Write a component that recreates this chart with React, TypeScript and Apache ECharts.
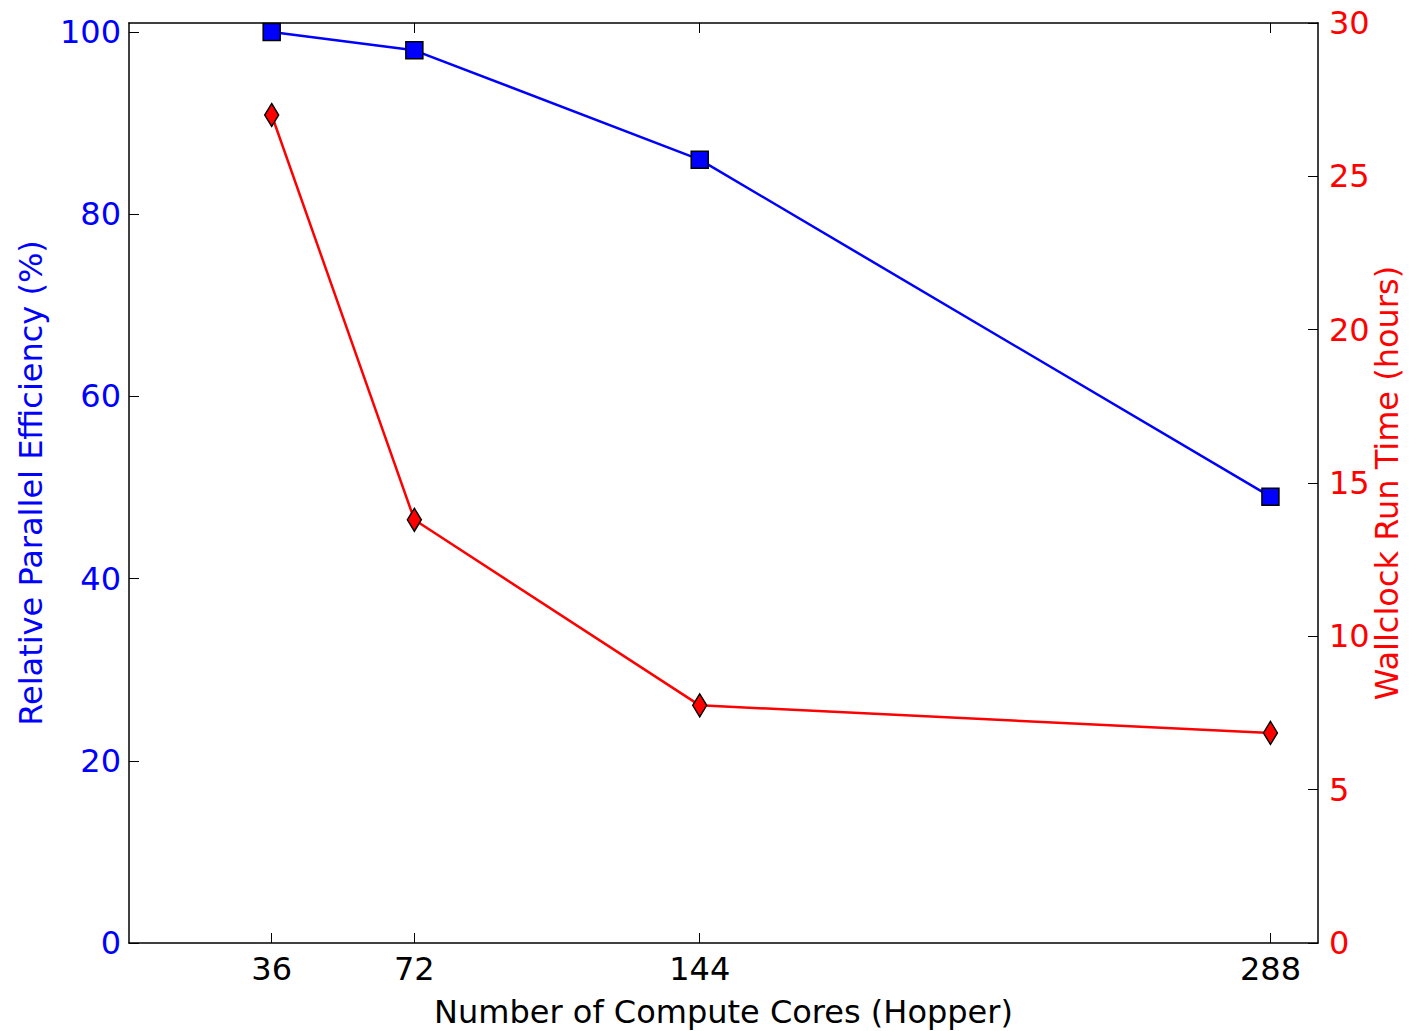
import React, { useEffect, useRef } from "react";
import * as echarts from "echarts";

const cores = [36, 72, 144, 288];
const efficiency = [100, 98, 86, 49];
const runTimeHours = [27, 13.8, 7.75, 6.85];
const xTicks = [36, 72, 144, 288];
const leftTicks = [0, 20, 40, 60, 80, 100];
const rightTicks = [0, 5, 10, 15, 20, 25, 30];

const FONT = "DejaVu Sans";

export default function App() {
  const ref = useRef<HTMLDivElement>(null);
  useEffect(() => {
    if (!ref.current) return;
    const chart = echarts.init(ref.current, null, { renderer: "svg" });
    const axisLine = { show: true, onZero: false, lineStyle: { color: "#000", width: 1.5 } };
    const tickStyle = { color: "#000", width: 1 };
    chart.setOption({
      animation: false,
      backgroundColor: "#fff",
      grid: { left: 129, right: 92, top: 23, bottom: 88, containLabel: false, outerBoundsMode: "none" },
      xAxis: [
        {
          type: "value",
          min: 0,
          max: 300,
          position: "bottom",
          name: "Number of Compute Cores (Hopper)",
          nameLocation: "middle",
          nameGap: 53,
          nameMoveOverlap: false,
          nameTextStyle: { color: "#000", fontSize: 32, fontFamily: FONT },
          axisLine,
          axisTick: { show: true, inside: true, length: 10, lineStyle: tickStyle, customValues: xTicks },
          axisLabel: { color: "#000", fontSize: 32, fontFamily: FONT, margin: 10, customValues: xTicks },
          splitLine: { show: false },
        },
        {
          type: "value",
          min: 0,
          max: 300,
          position: "top",
          axisLine,
          axisTick: { show: true, inside: true, length: 10, lineStyle: tickStyle, customValues: xTicks },
          axisLabel: { show: false },
          splitLine: { show: false },
        },
      ],
      yAxis: [
        {
          type: "value",
          min: 0,
          max: 101,
          position: "left",
          name: "Relative Parallel Efficiency (%)",
          nameLocation: "middle",
          nameGap: 82,
          nameMoveOverlap: false,
          nameTextStyle: { color: "#0000ff", fontSize: 32, fontFamily: FONT },
          axisLine,
          axisTick: { show: true, inside: true, length: 10, lineStyle: tickStyle, customValues: leftTicks },
          axisLabel: { color: "#0000ff", fontSize: 32, fontFamily: FONT, margin: 8, customValues: leftTicks },
          splitLine: { show: false },
        },
        {
          type: "value",
          min: 0,
          max: 30,
          position: "right",
          name: "Wallclock Run Time (hours)",
          nameLocation: "middle",
          nameGap: 53,
          nameMoveOverlap: false,
          nameTextStyle: { color: "#ff0000", fontSize: 32, fontFamily: FONT },
          axisLine,
          axisTick: { show: true, inside: true, length: 10, lineStyle: tickStyle, customValues: rightTicks },
          axisLabel: { color: "#ff0000", fontSize: 32, fontFamily: FONT, margin: 11, customValues: rightTicks },
          splitLine: { show: false },
        },
      ],
      series: [
        {
          name: "Relative Parallel Efficiency",
          type: "line",
          xAxisIndex: 0,
          yAxisIndex: 0,
          data: cores.map((c, i) => [c, efficiency[i]]),
          symbol: "rect",
          symbolSize: 17,
          lineStyle: { color: "#0000ff", width: 2.5 },
          itemStyle: { color: "#0000ff", borderColor: "#000", borderWidth: 1.5 },
          z: 2,
        },
        {
          name: "Wallclock Run Time",
          type: "line",
          xAxisIndex: 0,
          yAxisIndex: 1,
          data: cores.map((c, i) => [c, runTimeHours[i]]),
          symbol: "diamond",
          symbolSize: [14, 23],
          lineStyle: { color: "#ff0000", width: 2.5 },
          itemStyle: { color: "#ff0000", borderColor: "#000", borderWidth: 1.5 },
          z: 3,
        },
      ],
    });
    return () => chart.dispose();
  }, []);
  return (
    <div
      ref={ref}
      style={{ position: "fixed", left: 0, top: 0, width: 1410, height: 1031, background: "#fff" }}
    />
  );
}
